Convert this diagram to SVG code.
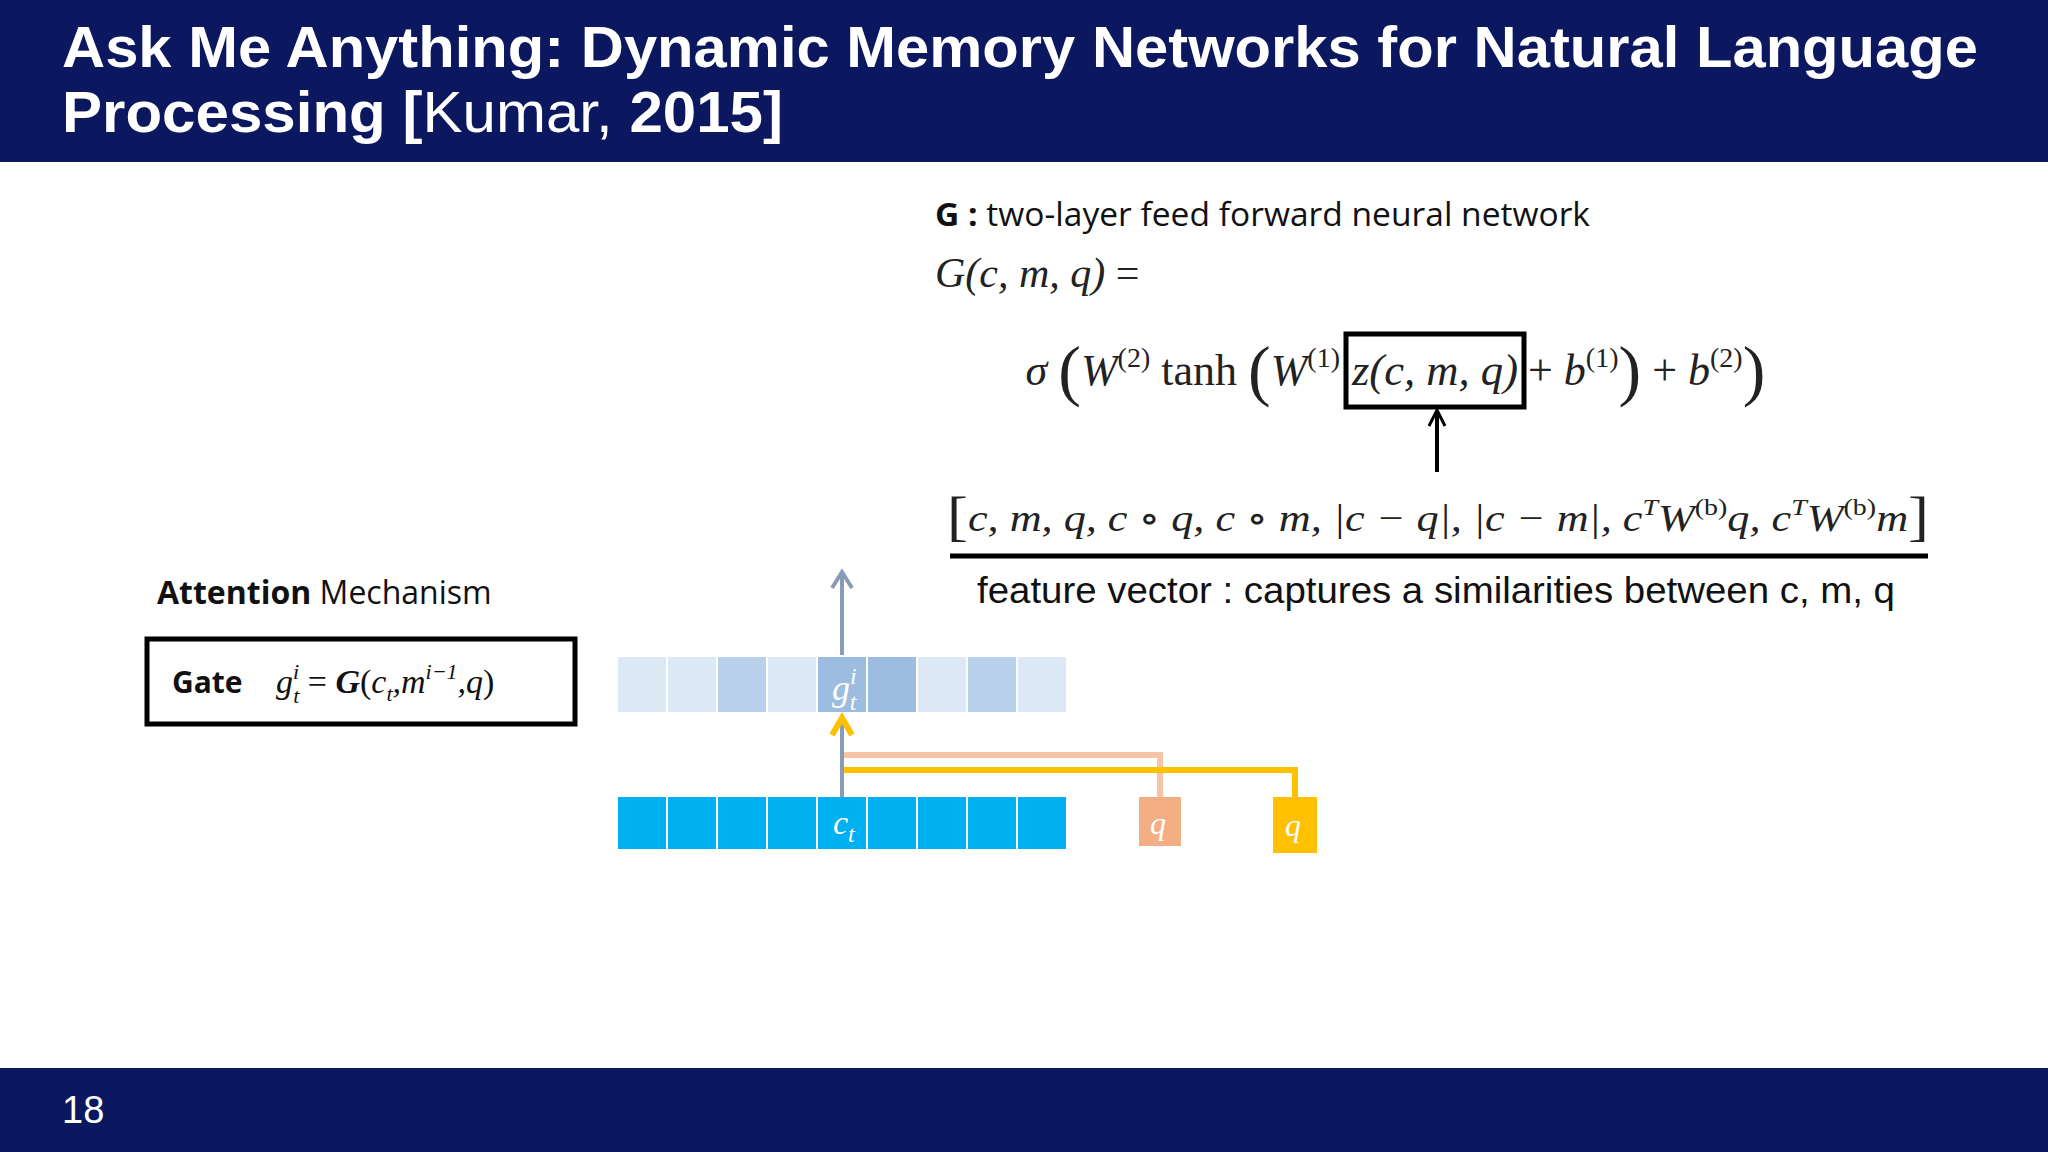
<svg xmlns="http://www.w3.org/2000/svg" width="2048" height="1152" viewBox="0 0 2048 1152">
<style>
.s{font-family:"Liberation Sans",Arial,sans-serif}
.o{font-family:"Open Sans","Noto Sans",sans-serif}
.m{font-family:"Liberation Serif","DejaVu Serif",serif;font-style:italic}
.gl{fill:#dde9f5}.gm{fill:#b8d0ea}.gd{fill:#9dbde0}.c{fill:#00b0f0}
</style>
<rect width="2048" height="1152" fill="#fff"/>
<g id="header">
<rect width="2048" height="162" fill="#0b175e"/>
<text x="62" y="67" class="s" font-size="58" font-weight="bold" fill="#fff" textLength="1916" lengthAdjust="spacingAndGlyphs">Ask Me Anything: Dynamic Memory Networks for Natural Language</text>
<text x="62" y="132" class="s" font-size="58" fill="#fff" textLength="721" lengthAdjust="spacingAndGlyphs"><tspan font-weight="bold">Processing [</tspan>Kumar, <tspan font-weight="bold">2015]</tspan></text>
</g>
<g id="footer">
<rect y="1068" width="2048" height="84" fill="#0b175e"/>
<text x="62" y="1123" class="s" font-size="38" fill="#fff">18</text>
</g>
<g id="formula">
<text x="935" y="226" class="o" font-size="33" fill="#111" textLength="655" lengthAdjust="spacingAndGlyphs"><tspan font-weight="bold">G :</tspan> two-layer feed forward neural network</text>
<text x="935" y="287" class="m" font-size="42" fill="#222">G(c, m, q) <tspan font-style="normal">=</tspan></text>
<text x="1340" y="385" class="m" font-size="44" fill="#222" text-anchor="end">σ <tspan font-style="normal" font-size="68" dy="8">(</tspan><tspan dy="-8">W</tspan><tspan font-style="normal" font-size="28" dy="-18">(2)</tspan><tspan font-style="normal" dy="18"> tanh </tspan><tspan font-style="normal" font-size="68" dy="8">(</tspan><tspan dy="-8">W</tspan><tspan font-style="normal" font-size="28" dy="-18">(1)</tspan></text>
<text x="1352" y="385" class="m" font-size="44" fill="#222" textLength="166" lengthAdjust="spacingAndGlyphs">z(c, m, q)</text>
<text x="1528" y="385" class="m" font-size="44" fill="#222"><tspan font-style="normal">+ </tspan>b<tspan font-style="normal" font-size="28" dy="-18">(1)</tspan><tspan font-style="normal" font-size="68" dy="26">)</tspan><tspan font-style="normal" dy="-8"> + </tspan>b<tspan font-style="normal" font-size="28" dy="-18">(2)</tspan><tspan font-style="normal" font-size="68" dy="26">)</tspan></text>
<rect x="1346" y="334" width="178" height="73" fill="none" stroke="#000" stroke-width="5"/>
</g>
<g id="feature">
<text x="947" y="531" class="m" font-size="38" fill="#222" textLength="982" lengthAdjust="spacingAndGlyphs"><tspan font-style="normal" font-size="54" dy="4">[</tspan><tspan dy="-4">c, m, q, c ∘ q, c ∘ m, |c − q|, |c − m|, c</tspan><tspan font-size="24" dy="-16">T</tspan><tspan dy="16">W</tspan><tspan font-style="normal" font-size="24" dy="-16">(b)</tspan><tspan dy="16">q, c</tspan><tspan font-size="24" dy="-16">T</tspan><tspan dy="16">W</tspan><tspan font-style="normal" font-size="24" dy="-16">(b)</tspan><tspan dy="16">m</tspan><tspan font-style="normal" font-size="54" dy="4">]</tspan></text>
<line x1="950" y1="556" x2="1928" y2="556" stroke="#000" stroke-width="5"/>
<text x="977" y="603" class="s" font-size="36" fill="#111" textLength="918" lengthAdjust="spacingAndGlyphs">feature vector : captures a similarities between c, m, q</text>
</g>
<g id="attention">
<text x="157" y="604" class="o" font-size="32" fill="#111"><tspan font-weight="bold">Attention</tspan> Mechanism</text>
<rect x="147" y="639" width="428" height="85" fill="#fff" stroke="#000" stroke-width="5"/>
<text x="172" y="693" class="o" font-size="30" font-weight="bold" fill="#111">Gate</text>
<text x="276" y="693" class="m" font-size="34" fill="#111">g<tspan font-size="22" dy="-14">i</tspan><tspan font-size="22" dx="-6" dy="24">t</tspan><tspan dy="-10" font-style="normal"> = </tspan><tspan font-weight="bold">G</tspan><tspan font-style="normal">(</tspan>c<tspan font-size="22" dy="8">t</tspan><tspan dy="-8">,m</tspan><tspan font-size="22" dy="-14">i−1</tspan><tspan dy="14">,q</tspan><tspan font-style="normal">)</tspan></text>
</g>
<g id="g-row">
<rect x="618" y="657" width="48" height="55" class="gl"/>
<rect x="668" y="657" width="48" height="55" class="gl"/>
<rect x="718" y="657" width="48" height="55" class="gm"/>
<rect x="768" y="657" width="48" height="55" class="gl"/>
<rect x="818" y="657" width="48" height="55" class="gd"/>
<rect x="868" y="657" width="48" height="55" class="gd"/>
<rect x="918" y="657" width="48" height="55" class="gl"/>
<rect x="968" y="657" width="48" height="55" class="gm"/>
<rect x="1018" y="657" width="48" height="55" class="gl"/>
<text x="832" y="700" class="m" font-size="36" fill="#fff">g<tspan font-size="24" dy="-16">i</tspan><tspan font-size="24" dx="-7" dy="26">t</tspan></text>
</g>
<g id="c-row">
<rect x="618" y="797" width="48" height="52" class="c"/>
<rect x="668" y="797" width="48" height="52" class="c"/>
<rect x="718" y="797" width="48" height="52" class="c"/>
<rect x="768" y="797" width="48" height="52" class="c"/>
<rect x="818" y="797" width="48" height="52" class="c"/>
<rect x="868" y="797" width="48" height="52" class="c"/>
<rect x="918" y="797" width="48" height="52" class="c"/>
<rect x="968" y="797" width="48" height="52" class="c"/>
<rect x="1018" y="797" width="48" height="52" class="c"/>
<text x="833" y="834" class="m" font-size="34" fill="#fff">c<tspan font-size="24" dy="8">t</tspan></text>
</g>
<g id="q1"><rect x="1139" y="797" width="42" height="49" fill="#f4ae84"/><text x="1158" y="834" class="m" font-size="32" fill="#fff" text-anchor="middle">q</text></g>
<g id="q2"><rect x="1273" y="797" width="44" height="56" fill="#ffc000"/><text x="1293" y="836" class="m" font-size="32" fill="#fff" text-anchor="middle">q</text></g>
<g id="connectors">
<line x1="1437" y1="472" x2="1437" y2="412" stroke="#000" stroke-width="4"/>
<path d="M1429,426 L1437,410 L1445,426" fill="none" stroke="#000" stroke-width="3"/>
<line x1="842" y1="655" x2="842" y2="574" stroke="#8a9bb8" stroke-width="4"/>
<path d="M832,588 L842,572 L852,588" fill="none" stroke="#8a9bb8" stroke-width="4"/>
<line x1="842" y1="797" x2="842" y2="716" stroke="#8a9bb8" stroke-width="4"/>
<path d="M844,755 H1160 V797" fill="none" stroke="#f6c4a6" stroke-width="6"/>
<path d="M844,770 H1295 V797" fill="none" stroke="#ffc000" stroke-width="6"/>
<path d="M832,735 L842,718 L852,735" fill="none" stroke="#ffc000" stroke-width="6"/>
</g>
</svg>
